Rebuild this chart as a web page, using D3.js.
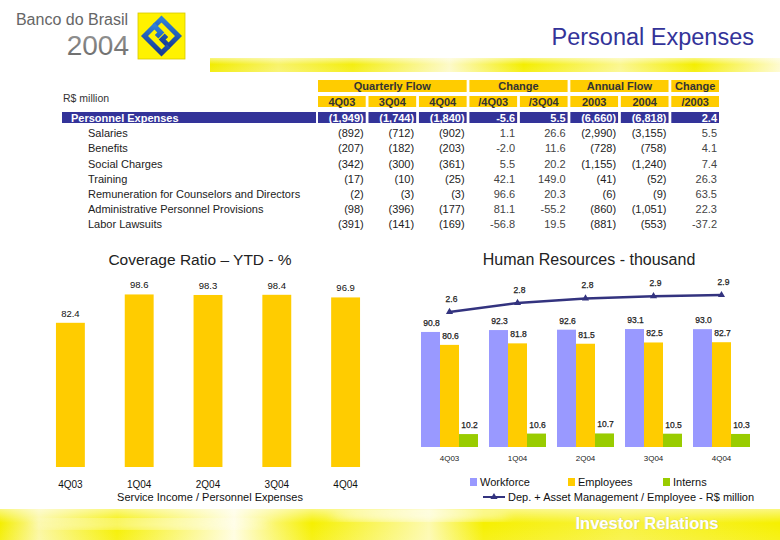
<!DOCTYPE html>
<html><head><meta charset="utf-8">
<script src="https://cdn.jsdelivr.net/npm/d3@7/dist/d3.min.js"></script>
<style>body{margin:0;background:#fff}svg{display:block;font-family:"Liberation Sans",Arial,sans-serif}</style>
</head><body><svg id="c" width="780" height="540"></svg>
<script>
// ---------- data ----------
const tableCols = ["4Q03","3Q04","4Q04","/4Q03","/3Q04","2003","2004","/2003"];
const colKinds  = ["flow","flow","flow","pct","pct","flow","flow","pct"];
const groupHeaders = ["Quarterly Flow","Change","Annual Flow","Change"];
const groupSpans   = [3,2,2,1];
const totalLabel = "Personnel Expenses";
const totalValues = [-1949,-1744,-1840,-5.6,5.5,-6660,-6818,2.4];
const rowLabels = ["Salaries","Benefits","Social Charges","Training",
  "Remuneration for Counselors and Directors","Administrative Personnel Provisions","Labor Lawsuits"];
const salaries   = [-892,-712,-902,1.1,26.6,-2990,-3155,5.5];
const benefits   = [-207,-182,-203,-2.0,11.6,-728,-758,4.1];
const social     = [-342,-300,-361,5.5,20.2,-1155,-1240,7.4];
const training   = [-17,-10,-25,42.1,149.0,-41,-52,26.3];
const remuner    = [-2,-3,-3,96.6,20.3,-6,-9,63.5];
const adminProv  = [-98,-396,-177,81.1,-55.2,-860,-1051,22.3];
const lawsuits   = [-391,-141,-169,-56.8,19.5,-881,-553,-37.2];
const rowValues = [salaries,benefits,social,training,remuner,adminProv,lawsuits];

const covCats = ["4Q03","1Q04","2Q04","3Q04","4Q04"];
const covValues = [82.4,98.6,98.3,98.4,96.9];

const hrCats = ["4Q03","1Q04","2Q04","3Q04","4Q04"];
const hrSeries = ["Workforce","Employees","Interns"];
const workforce = [90.8,92.3,92.6,93.1,93.0];
const employees = [80.6,81.8,81.5,82.5,82.7];
const interns   = [10.2,10.6,10.7,10.5,10.3];
const assetPerEmployee = [2.60,2.76,2.84,2.88,2.90];
const lineLabel = "Dep. + Asset Management / Employee - R$ million";

// ---------- styles ----------
const C = {navy:"#333399", gold:"#ffcc00", wf:"#9999ff", emp:"#ffcc00", int:"#99cc00", line:"#33337f", txt:"#333"};
const svg = d3.select("#c");
const defs = svg.append("defs");
const f1 = v => d3.format(".1f")(v).replace("\u2212","-");

function bannerGrad(id, stops){
  const g = defs.append("linearGradient").attr("id",id).attr("x1","0").attr("x2","1").attr("y1","0").attr("y2","0");
  stops.forEach(s=>g.append("stop").attr("offset",s[0]).attr("stop-color",s[1]));
}
bannerGrad("topBan",[[0,"#f2ec00"],[0.12,"#f8f36a"],[0.25,"#f4ee10"],[0.42,"#fdfac8"],[0.55,"#f4ee00"],[0.72,"#fbf790"],[0.85,"#f4ee00"],[1,"#fefbd0"]]);
bannerGrad("botBan",[[0,"#f4ee00"],[0.05,"#fbf7a0"],[0.15,"#f6f000"],[0.3,"#fffde0"],[0.4,"#f6f000"],[0.55,"#fdfab0"],[0.62,"#f6f000"],[0.8,"#f8f240"],[1,"#f6f000"]]);
const vf = defs.append("linearGradient").attr("id","vfade").attr("x1","0").attr("x2","0").attr("y1","0").attr("y2","1");
vf.append("stop").attr("offset",0).attr("stop-color","#fff").attr("stop-opacity",0.5);
vf.append("stop").attr("offset",0.45).attr("stop-color","#fff").attr("stop-opacity",0);
vf.append("stop").attr("offset",1).attr("stop-color","#fff").attr("stop-opacity",0.1);
defs.append("filter").attr("id","blur").append("feGaussianBlur").attr("stdDeviation",5);
const yrG = defs.append("linearGradient").attr("id","yrG").attr("x1","0").attr("x2","0").attr("y1","0").attr("y2","1");
yrG.append("stop").attr("offset",0).attr("stop-color","#999");
yrG.append("stop").attr("offset",1).attr("stop-color","#666");
const logoG = defs.append("linearGradient").attr("id","logoG").attr("x1","0").attr("x2","1").attr("y1","0").attr("y2","1");
logoG.append("stop").attr("offset",0).attr("stop-color","#2f7fd6");
logoG.append("stop").attr("offset",1).attr("stop-color","#173c96");

// ---------- header ----------
svg.append("text").attr("x",128).attr("y",25).attr("text-anchor","end").attr("font-size",16).attr("fill","#666").text("Banco do Brasil");
svg.append("text").attr("x",129).attr("y",55).attr("text-anchor","end").attr("font-size",28).attr("fill","url(#yrG)").text("2004");
const logo = svg.append("g");
logo.append("rect").attr("x",138).attr("y",13).attr("width",47).attr("height",46).attr("fill","#fff200").attr("stroke","#d8c800").attr("stroke-width",0.8);
const lg = logo.append("g").attr("transform","translate(161.5,36) rotate(45)");
["M-12,-2 V-12 H12 V2 H3 V-4","M12,2 V12 H-12 V-2 H-3 V4"].forEach(d=>
  lg.append("path").attr("d",d).attr("fill","none").attr("stroke","url(#logoG)").attr("stroke-width",5).attr("stroke-linejoin","miter"));
svg.append("text").attr("x",754).attr("y",45).attr("text-anchor","end").attr("font-size",23.5).attr("fill",C.navy).text("Personal Expenses");
svg.append("rect").attr("x",210).attr("y",58).attr("width",570).attr("height",14).attr("fill","url(#topBan)");
svg.append("rect").attr("x",210).attr("y",58).attr("width",570).attr("height",14).attr("fill","url(#vfade)");

// ---------- table ----------
const fmtFlow = v => v<0 ? "("+d3.format(",")(-v)+")" : d3.format(",")(v);
const fmtCell = (v,i) => colKinds[i]==="flow" ? fmtFlow(v) : f1(v);
const colX = d3.scaleBand().domain(tableCols).range([318,719]).paddingInner(0.055);
const tbl = svg.append("g").attr("font-size",11);
let start = 0;
groupHeaders.forEach((h,gi)=>{
  const c0 = tableCols[start], c1 = tableCols[start+groupSpans[gi]-1];
  const x0 = colX(c0), x1 = colX(c1)+colX.bandwidth();
  tbl.append("rect").attr("x",x0).attr("y",80).attr("width",x1-x0).attr("height",12).attr("fill",C.gold);
  tbl.append("text").attr("x",(x0+x1)/2).attr("y",90).attr("text-anchor","middle").attr("font-weight","bold").attr("fill",C.txt).text(h);
  start += groupSpans[gi];
});
tbl.selectAll(".sub").data(tableCols).join("g").each(function(c){
  const g = d3.select(this);
  g.append("rect").attr("x",colX(c)).attr("y",96).attr("width",colX.bandwidth()).attr("height",11).attr("fill",C.gold);
  g.append("text").attr("x",colX(c)+colX.bandwidth()/2).attr("y",105.5).attr("text-anchor","middle").attr("font-weight","bold").attr("fill",C.txt).text(c);
});
svg.append("text").attr("x",63).attr("y",102).attr("font-size",10.5).attr("fill",C.txt).text("R$ million");
tbl.append("rect").attr("x",62).attr("y",112).attr("width",316-62).attr("height",11).attr("fill",C.navy);
tbl.append("text").attr("x",71).attr("y",121.5).attr("font-weight","bold").attr("fill","#fff").text(totalLabel);
tableCols.forEach((c,i)=>{
  tbl.append("rect").attr("x",colX(c)).attr("y",112).attr("width",colX.bandwidth()).attr("height",11).attr("fill",C.navy);
  tbl.append("text").attr("x",colX(c)+colX.bandwidth()-2).attr("y",121.5).attr("text-anchor","end").attr("font-weight","bold").attr("fill","#fff").text(fmtCell(totalValues[i],i));
});
const rowY = d3.scalePoint().domain(rowLabels).range([133.3,224]);
rowLabels.forEach((r,ri)=>{
  const y = rowY(r)+4;
  tbl.append("text").attr("x",88).attr("y",y).attr("fill","#222").text(r);
  rowValues[ri].forEach((v,i)=>{
    tbl.append("text").attr("x",colX(tableCols[i])+colX.bandwidth()-2).attr("y",y).attr("text-anchor","end")
      .attr("fill", colKinds[i]==="pct" ? "#444" : "#222").text(fmtCell(v,i));
  });
});

// ---------- coverage chart ----------
const cov = svg.append("g");
cov.append("text").attr("x",200).attr("y",265).attr("text-anchor","middle").attr("font-size",15.5).attr("fill","#222").text("Coverage Ratio \u2013 YTD - %");
const cx = d3.scaleBand().domain(covCats).range([36,380]).paddingInner(0.58).paddingOuter(0.29);
const cy = d3.scaleLinear().domain([0,100]).range([467,292]);
cov.selectAll("rect").data(covValues).join("rect")
  .attr("x",(d,i)=>cx(covCats[i])).attr("y",d=>cy(d)).attr("width",cx.bandwidth()).attr("height",d=>cy(0)-cy(d)).attr("fill",C.gold);
cov.selectAll(".vl").data(covValues).join("text")
  .attr("x",(d,i)=>cx(covCats[i])+cx.bandwidth()/2).attr("y",d=>cy(d)-6).attr("text-anchor","middle").attr("font-size",9.5).attr("fill","#111").text(d=>f1(d));
const covAxis = cov.append("g").attr("transform","translate(0,476)").call(d3.axisBottom(cx).tickSize(0).tickPadding(5));
covAxis.select(".domain").remove();
covAxis.selectAll("text").attr("font-size",10).attr("fill","#111").attr("font-family","Liberation Sans, Arial, sans-serif");
cov.append("text").attr("x",210).attr("y",501).attr("text-anchor","middle").attr("font-size",11).attr("fill","#111").text("Service Income / Personnel Expenses");

// ---------- HR chart ----------
const hr = svg.append("g");
hr.append("text").attr("x",589).attr("y",265).attr("text-anchor","middle").attr("font-size",16).attr("fill","#222").text("Human Resources - thousand");
const x0 = d3.scaleBand().domain(hrCats).range([415.5,755.5]).paddingInner(0.162).paddingOuter(0.081);
const x1 = d3.scaleBand().domain(hrSeries).range([0,x0.bandwidth()]);
const hy = d3.scaleLinear().domain([0,100]).range([447,320.3]);
const seriesVals = [workforce,employees,interns];
const sColors = [C.wf,C.emp,C.int];
hrSeries.forEach((s,si)=>{
  const g = hr.append("g");
  g.selectAll("rect").data(seriesVals[si]).join("rect")
    .attr("x",(d,i)=>x0(hrCats[i])+x1(s)).attr("y",d=>hy(d)).attr("width",x1.bandwidth()).attr("height",d=>hy(0)-hy(d)).attr("fill",sColors[si]);
  g.selectAll("text").data(seriesVals[si]).join("text")
    .attr("x",(d,i)=>x0(hrCats[i])+x1(s)+x1.bandwidth()/2+1).attr("y",d=>hy(d)-6).attr("text-anchor","middle")
    .attr("font-size",8.5).attr("fill","#222").attr("stroke","#222").attr("stroke-width",0.25).text(d=>f1(d));
});
const hrAxis = hr.append("g").attr("transform","translate(0,455)").call(d3.axisBottom(x0).tickSize(0).tickPadding(0));
hrAxis.select(".domain").remove();
hrAxis.selectAll("text").attr("font-size",8).attr("fill","#222").attr("font-family","Liberation Sans, Arial, sans-serif");
const ly = d3.scaleLinear().domain([0,2.9]).range([459,295]);
const lineGen = d3.line().x((d,i)=>x0(hrCats[i])+x0.bandwidth()/2).y(d=>ly(d));
hr.append("path").attr("d",lineGen(assetPerEmployee)).attr("fill","none").attr("stroke",C.line).attr("stroke-width",2.5);
const tri = d3.symbol().type(d3.symbolTriangle).size(22);
hr.selectAll(".mk").data(assetPerEmployee).join("path")
  .attr("transform",(d,i)=>`translate(${x0(hrCats[i])+x0.bandwidth()/2},${ly(d)})`).attr("d",tri).attr("fill",C.line);
hr.selectAll(".ll").data(assetPerEmployee).join("text")
  .attr("x",(d,i)=>x0(hrCats[i])+x0.bandwidth()/2+2).attr("y",d=>ly(d)-10).attr("text-anchor","middle")
  .attr("font-size",8.5).attr("fill","#222").attr("stroke","#222").attr("stroke-width",0.25).text(d=>f1(d));
// legend
const legX = [470,568,663];
hrSeries.forEach((s,si)=>{
  hr.append("rect").attr("x",legX[si]).attr("y",478).attr("width",7).attr("height",8).attr("fill",sColors[si]);
  hr.append("text").attr("x",legX[si]+10).attr("y",486).attr("font-size",11).attr("fill","#111").text(s);
});
hr.append("line").attr("x1",483).attr("x2",505).attr("y1",497).attr("y2",497).attr("stroke",C.line).attr("stroke-width",2);
hr.append("path").attr("transform","translate(494,497)").attr("d",tri).attr("fill",C.line);
hr.append("text").attr("x",508).attr("y",501).attr("font-size",11).attr("fill","#111").text(lineLabel);

// ---------- footer ----------
svg.append("rect").attr("x",0).attr("y",509).attr("width",780).attr("height",31).attr("fill","url(#botBan)");
svg.append("ellipse").attr("cx",150).attr("cy",524).attr("rx",120).attr("ry",5).attr("fill","#fff").attr("opacity",0.55).attr("filter","url(#blur)");
svg.append("ellipse").attr("cx",420).attr("cy",516).attr("rx",90).attr("ry",5).attr("fill","#fff").attr("opacity",0.6).attr("filter","url(#blur)");
svg.append("rect").attr("x",0).attr("y",509).attr("width",780).attr("height",31).attr("fill","url(#vfade)");
svg.append("text").attr("x",647).attr("y",529).attr("text-anchor","middle").attr("font-size",16.5).attr("font-weight","bold")
  .attr("fill","#fff").attr("stroke","#c8c8a0").attr("stroke-width",0.6).attr("paint-order","stroke").text("Investor Relations");
</script></body></html>
